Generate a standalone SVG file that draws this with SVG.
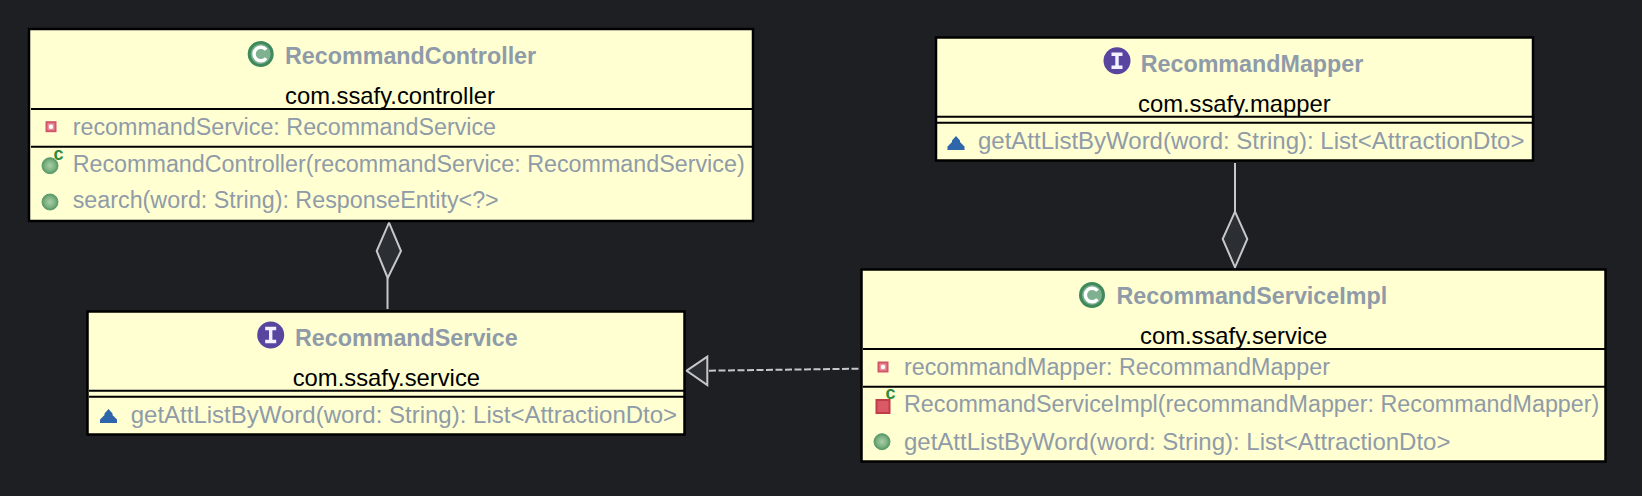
<svg xmlns="http://www.w3.org/2000/svg" width="1642" height="496" viewBox="0 0 1642 496">
<style>
.box{fill:#ffffd2;stroke:#000;stroke-width:2.5}
.sep{stroke:#000;stroke-width:2;fill:none}
text{font-family:"Liberation Sans",Arial,sans-serif;font-size:23.3px}
.title{font-weight:700;fill:#8f9ba8}
.pkg{fill:#000;font-size:23.800px}
.mem{fill:#8f9ba8}
.op{font-size:24px}
.conn{stroke:#c4c8cd;stroke-width:2;fill:none}
.head{stroke:#c4c8cd;stroke-width:2;fill:#2b2e33}
.ctor{fill:#2e8b40;font-weight:700;font-size:18px}
</style>
<defs>
<radialGradient id="g"><stop offset="0" stop-color="#a9cfa9"/><stop offset="0.7" stop-color="#79ae7f"/><stop offset="1" stop-color="#4f9360"/></radialGradient>
<g id="cls"><circle r="13" fill="#3f8a5c"/><circle r="10" fill="#7fb08f"/><path d="M5.500 -4.200A6.800 6.800 0 1 0 5.500 4.200" fill="none" stroke="#fff" stroke-width="3.400"/></g>
<g id="ifc"><circle r="13.500" fill="#57459f"/><path d="M-5.500 -6.500H5.500M-5.500 6.500H5.500M0 -6.500V6.500" stroke="#f3f0ff" stroke-width="3.400" fill="none"/></g>
<circle id="pub" r="8" fill="url(#g)" stroke="#5f9f70" stroke-width="1"/>
<g id="priv"><rect x="-4.500" y="-4.500" width="9" height="9" fill="#e98d99" stroke="#d2566a" stroke-width="2"/><circle r="2.200" fill="#fff"/></g>
<path id="pkgm" d="M-8.500 7L-8.500 3.500L-4 -1L-4 -2.500L0 -7L4 -2.500L4 -1L8.500 3.500L8.500 7Z" fill="#2f66ab"/>
</defs>
<rect width="1642" height="496" fill="#1d1f23"/>

<g id="connectors">
<path class="conn" d="M387.500 278V309"/>
<path class="head" d="M389 222.700L401 251L387.700 278L376.700 251Z"/>
<path class="conn" d="M1235 163V211.700"/>
<path class="head" d="M1235 211.700L1247.300 239L1235 267.300L1222.700 239Z"/>
<path class="conn" stroke-dasharray="7 2.500" d="M709 370.700L859 368.700"/>
<path class="head" d="M686.700 370.700L707.300 356.700V385Z"/>
</g>

<g id="RecommandController">
<rect class="box" x="29" y="29" width="724" height="192"/>
<use href="#cls" x="260.700" y="54"/>
<text class="title" x="285" y="64">RecommandController</text>
<text class="pkg" x="285" y="104">com.ssafy.controller</text>
<path class="sep" d="M31 109H753M31 146.700H753"/>
<use href="#priv" x="51" y="126.700"/>
<text class="mem" x="72.700" y="134.500">recommandService: RecommandService</text>
<use href="#pub" x="50" y="165.700"/>
<text class="ctor" x="53.500" y="160">c</text>
<text class="mem" x="72.700" y="172">RecommandController(recommandService: RecommandService)</text>
<use href="#pub" x="50" y="202"/>
<text class="mem" x="72.700" y="208">search(word: String): ResponseEntity&lt;?&gt;</text>
</g>

<g id="RecommandService">
<rect class="box" x="87.500" y="311.500" width="597" height="123"/>
<use href="#ifc" x="270.700" y="335"/>
<text class="title" x="295" y="346">RecommandService</text>
<text class="pkg" x="292.700" y="385.500">com.ssafy.service</text>
<path class="sep" d="M89 390.700H684M89 396.700H684"/>
<use href="#pkgm" x="108.500" y="416"/>
<text class="mem op" x="130.700" y="423">getAttListByWord(word: String): List&lt;AttractionDto&gt;</text>
</g>

<g id="RecommandMapper">
<rect class="box" x="936" y="37.500" width="597" height="123"/>
<use href="#ifc" x="1117" y="60.700"/>
<text class="title" x="1140.700" y="72">RecommandMapper</text>
<text class="pkg" x="1138" y="112">com.ssafy.mapper</text>
<path class="sep" d="M937 116.700H1532M937 122.700H1532"/>
<use href="#pkgm" x="956" y="143"/>
<text class="mem op" x="978" y="149">getAttListByWord(word: String): List&lt;AttractionDto&gt;</text>
</g>

<g id="RecommandServiceImpl">
<rect class="box" x="861.500" y="269.500" width="744" height="192"/>
<use href="#cls" x="1092" y="295"/>
<text class="title" x="1116.500" y="304">RecommandServiceImpl</text>
<text class="pkg" x="1140" y="344">com.ssafy.service</text>
<path class="sep" d="M863 349H1605M863 386.700H1605"/>
<use href="#priv" x="883" y="367"/>
<text class="mem" x="904" y="374.500">recommandMapper: RecommandMapper</text>
<rect x="876.500" y="400" width="13" height="13" fill="#d95a66" stroke="#c23b49" stroke-width="2"/>
<text class="ctor" x="885.500" y="399">c</text>
<text class="mem" x="904" y="412">RecommandServiceImpl(recommandMapper: RecommandMapper)</text>
<use href="#pub" x="882" y="441.700"/>
<text class="mem op" x="904" y="449.500">getAttListByWord(word: String): List&lt;AttractionDto&gt;</text>
</g>
</svg>
